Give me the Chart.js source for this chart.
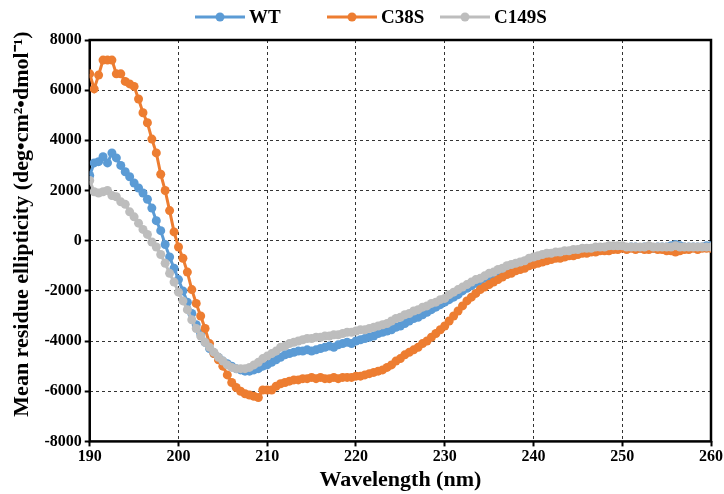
<!DOCTYPE html>
<html>
<head>
<meta charset="utf-8">
<script src="https://cdn.jsdelivr.net/npm/chart.js@4.4.1/dist/chart.umd.min.js"></script>
<style>
  body { margin: 0; background: #fff; }
</style>
</head>
<body>
<canvas id="grafico" width="724" height="494"></canvas>
<script>
// comprimentos de onda (nm), passo de 0.5
const comprimentos = [
  190,190.5,191,191.5,192,192.5,193,193.5,194,194.5,
  195,195.5,196,196.5,197,197.5,198,198.5,199,199.5,
  200,200.5,201,201.5,202,202.5,203,203.5,204,204.5,
  205,205.5,206,206.5,207,207.5,208,208.5,209,209.5,
  210,210.5,211,211.5,212,212.5,213,213.5,214,214.5,
  215,215.5,216,216.5,217,217.5,218,218.5,219,219.5,
  220,220.5,221,221.5,222,222.5,223,223.5,224,224.5,
  225,225.5,226,226.5,227,227.5,228,228.5,229,229.5,
  230,230.5,231,231.5,232,232.5,233,233.5,234,234.5,
  235,235.5,236,236.5,237,237.5,238,238.5,239,239.5,
  240,240.5,241,241.5,242,242.5,243,243.5,244,244.5,
  245,245.5,246,246.5,247,247.5,248,248.5,249,249.5,
  250,250.5,251,251.5,252,252.5,253,253.5,254,254.5,
  255,255.5,256,256.5,257,257.5,258,258.5,259,259.5,
  260
];

const wt = [
  2600,3100,3150,3350,3100,3500,3300,3000,2750,2550,
  2300,2100,1900,1650,1300,800,400,-150,-650,-1100,
  -1550,-2000,-2450,-2900,-3350,-3700,-4050,-4300,-4500,-4650,
  -4800,-4900,-5000,-5100,-5150,-5200,-5200,-5150,-5100,-5000,
  -4950,-4850,-4750,-4650,-4550,-4500,-4450,-4400,-4400,-4350,
  -4400,-4350,-4300,-4250,-4200,-4250,-4150,-4100,-4050,-4100,
  -4000,-3950,-3900,-3850,-3800,-3700,-3650,-3600,-3550,-3450,
  -3400,-3300,-3200,-3100,-3050,-2950,-2850,-2750,-2650,-2550,
  -2450,-2350,-2250,-2150,-2000,-1900,-1800,-1700,-1600,-1500,
  -1450,-1350,-1250,-1200,-1100,-1050,-950,-900,-850,-750,
  -700,-650,-600,-600,-550,-500,-500,-450,-450,-400,
  -400,-350,-350,-350,-300,-300,-300,-300,-250,-250,
  -250,-300,-250,-250,-300,-250,-250,-300,-250,-250,
  -250,-200,-150,-200,-250,-250,-250,-250,-250,-200,
  -200
];

const c38s = [
  6650,6050,6600,7200,7200,7200,6650,6650,6350,6250,
  6150,5650,5100,4700,4050,3500,2650,2000,1200,350,
  -250,-700,-1250,-1950,-2500,-3000,-3500,-4100,-4500,-4750,
  -5000,-5350,-5650,-5850,-6000,-6100,-6150,-6200,-6250,-5950,
  -5950,-5950,-5800,-5700,-5650,-5600,-5550,-5550,-5500,-5500,
  -5450,-5500,-5450,-5500,-5500,-5450,-5500,-5450,-5450,-5450,
  -5400,-5400,-5350,-5300,-5250,-5200,-5150,-5050,-4950,-4800,
  -4700,-4550,-4450,-4350,-4250,-4100,-4000,-3850,-3700,-3550,
  -3400,-3200,-3000,-2800,-2600,-2400,-2250,-2100,-1950,-1850,
  -1750,-1650,-1550,-1450,-1350,-1300,-1200,-1150,-1100,-1000,
  -950,-900,-850,-800,-750,-700,-700,-650,-600,-600,
  -550,-500,-500,-450,-450,-400,-400,-400,-350,-350,
  -300,-350,-300,-350,-300,-350,-350,-300,-350,-350,
  -400,-400,-450,-400,-350,-350,-300,-350,-300,-300,
  -300
];

const c149s = [
  2400,1950,1900,1950,2000,1800,1750,1550,1450,1150,
  950,700,450,250,-50,-250,-550,-900,-1300,-1650,
  -2050,-2400,-2750,-3150,-3500,-3800,-4050,-4250,-4450,-4650,
  -4800,-4950,-5050,-5100,-5100,-5100,-5050,-4950,-4850,-4700,
  -4600,-4500,-4400,-4250,-4200,-4100,-4050,-4000,-3950,-3900,
  -3900,-3850,-3850,-3800,-3800,-3750,-3750,-3700,-3650,-3650,
  -3600,-3550,-3550,-3500,-3450,-3400,-3350,-3300,-3200,-3100,
  -3050,-2950,-2900,-2800,-2750,-2650,-2600,-2500,-2450,-2350,
  -2300,-2150,-2050,-1950,-1850,-1750,-1650,-1550,-1500,-1400,
  -1300,-1250,-1150,-1100,-1000,-950,-900,-850,-800,-700,
  -650,-600,-550,-500,-500,-450,-450,-400,-400,-350,
  -350,-300,-300,-300,-250,-250,-250,-200,-200,-200,
  -200,-250,-250,-250,-250,-250,-200,-250,-250,-250,
  -250,-250,-200,-250,-250,-250,-250,-250,-250,-250,
  -250
];

const nomesSeries = ['WT', 'C38S', 'C149S'];
const coresSeries = ['#5B9BD5', '#ED7D31', '#BDBDBD'];
const ticksY = [-8000, -6000, -4000, -2000, 0, 2000, 4000, 6000, 8000];
const ticksX = [190, 200, 210, 220, 230, 240, 250, 260];
const tituloY = 'Mean residue ellipticity (deg•cm²•dmol⁻¹)';

const fonte = 'Liberation Serif, Times New Roman, serif';

function pontos(valores) {
  return comprimentos.map((x, i) => ({ x: x, y: valores[i] }));
}

const valoresSeries = [wt, c38s, c149s];
const datasets = valoresSeries.map((v, i) => ({
  label: nomesSeries[i],
  data: pontos(v),
  borderColor: coresSeries[i],
  backgroundColor: coresSeries[i],
  pointBackgroundColor: coresSeries[i],
  pointBorderWidth: 0,
  pointRadius: 4.5,
  borderWidth: 3,
  tension: 0,
  order: 3 - i // a última série fica por cima, como no Excel
}));

// moldura preta grossa em volta da área do gráfico
const moldura = {
  id: 'moldura',
  beforeDatasetsDraw(chart) {
    const a = chart.chartArea;
    const ctx = chart.ctx;
    ctx.save();
    ctx.strokeStyle = '#000';
    ctx.lineWidth = 2.5;
    ctx.strokeRect(a.left, a.top, a.right - a.left, a.bottom - a.top);
    ctx.restore();
  }
};

// legenda desenhada à mão: linha com bolinha + nome, em cima
const posLegenda = [195, 327, 440];
const legenda = {
  id: 'legenda',
  afterDraw(chart) {
    const ctx = chart.ctx;
    const y = 17;
    ctx.save();
    chart.data.datasets.forEach((ds, i) => {
      const x0 = posLegenda[i];
      ctx.strokeStyle = ds.borderColor;
      ctx.lineWidth = 3;
      ctx.beginPath(); ctx.moveTo(x0, y); ctx.lineTo(x0 + 50, y); ctx.stroke();
      ctx.fillStyle = ds.borderColor;
      ctx.beginPath(); ctx.arc(x0 + 25, y, 4.5, 0, Math.PI * 2); ctx.fill();
      ctx.fillStyle = '#000';
      ctx.font = 'bold 19px ' + fonte;
      ctx.textBaseline = 'middle';
      ctx.textAlign = 'left';
      ctx.fillText(ds.label, x0 + 54, y + 1);
    });

    // título do eixo Y, um pouco acima do centro como no original
    ctx.translate(22, 224);
    ctx.rotate(-Math.PI / 2);
    ctx.font = 'bold 22px ' + fonte;
    ctx.textAlign = 'center';
    ctx.textBaseline = 'middle';
    ctx.fillStyle = '#000';
    ctx.fillText(tituloY, 0, 0);
    ctx.restore();
  }
};

const ctx = document.getElementById('grafico').getContext('2d');
new Chart(ctx, {
  type: 'line',
  data: { datasets: datasets },
  options: {
    responsive: false,
    animation: false,
    layout: { padding: { left: 7, right: 8, top: 40, bottom: 0 } },
    plugins: {
      legend: { display: false },
      tooltip: { enabled: false }
    },
    scales: {
      x: {
        type: 'linear',
        min: 190,
        max: 260,
        afterBuildTicks: s => { s.ticks = ticksX.map(v => ({ value: v })); },
        ticks: { color: '#000', font: { family: fonte, size: 16, weight: 'bold' }, padding: 1 },
        grid: { color: '#333', lineWidth: 1, tickLength: 5, tickColor: '#000', tickWidth: 2 },
        border: { display: false, dash: [3, 3] },
        title: { display: true, text: 'Wavelength (nm)', color: '#000', font: { family: fonte, size: 22, weight: 'bold' }, padding: { top: 0, bottom: 0 } }
      },
      y: {
        min: -8000,
        max: 8000,
        afterBuildTicks: s => { s.ticks = ticksY.map(v => ({ value: v })); },
        ticks: { color: '#000', font: { family: fonte, size: 16, weight: 'bold' }, padding: 3, callback: v => String(v) },
        grid: { color: '#333', lineWidth: 1, tickLength: 5, tickColor: '#000', tickWidth: 2 },
        border: { display: false, dash: [3, 3] },
        // o título reserva o espaço; o texto é desenhado no plugin
        title: { display: true, text: tituloY, color: 'rgba(0,0,0,0)', font: { family: fonte, size: 22, weight: 'bold' }, padding: { top: 0, bottom: 8 } }
      }
    }
  },
  plugins: [moldura, legenda]
});
</script>
</body>
</html>
